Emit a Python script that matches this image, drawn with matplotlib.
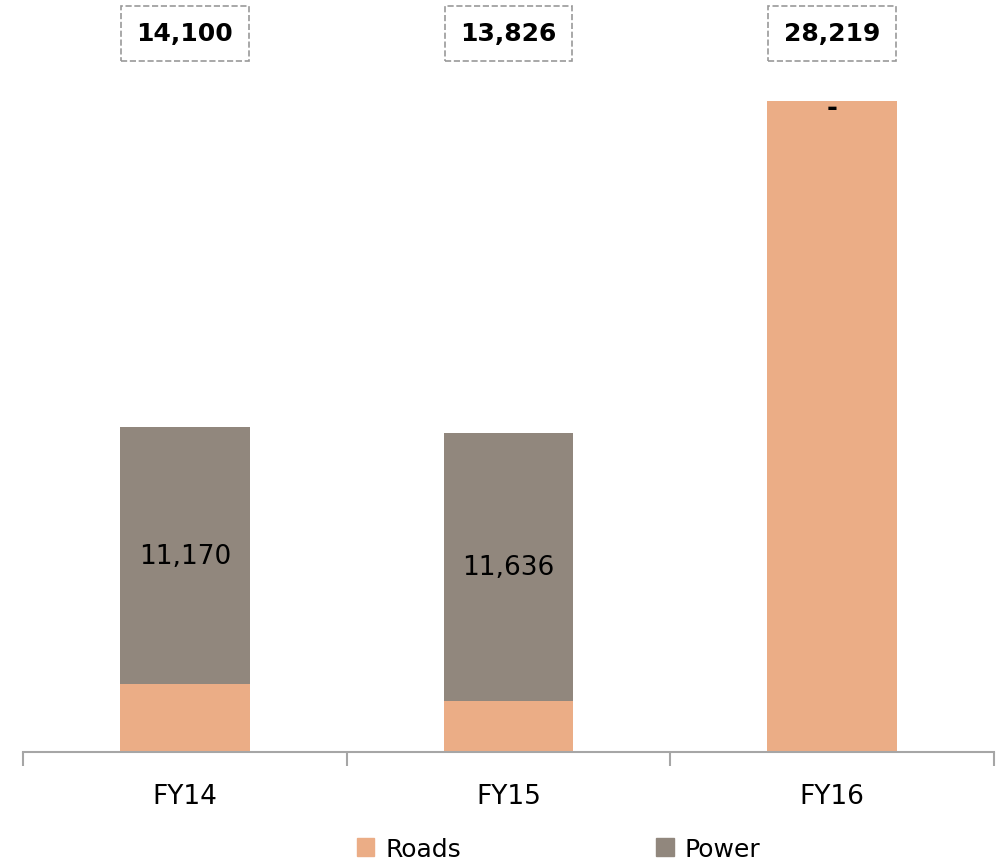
import numpy as np
import matplotlib.pyplot as plt
from matplotlib.patches import Patch

years = ['FY14', 'FY15', 'FY16']
roads = [2930, 2190, 28219]
power = [11170, 11636, 0]
totals = [14100, 13826, 28219]

road_color = '#EBAD86'
power_color = '#91877D'

plt.rcParams['font.family'] = ['DejaVu Sans']

fig = plt.figure(figsize=(10.03, 8.62), dpi=100)
ax = fig.add_axes([23 / 1003, 109 / 862, 971 / 1003, 673 / 862])

x = np.arange(len(years))
ax.bar(x, roads, width=0.4, color=road_color, label='Roads')
ax.bar(x, power, width=0.4, bottom=roads, color=power_color, label='Power')

# power labels in the middle of the segment
for i in range(len(years)):
    if power[i]:
        ax.text(x[i], roads[i] + power[i] / 2, f'{power[i]:,}', ha='center', va='center',
                fontsize=19, color='black')
    else:
        ax.annotate('-', xy=(x[i], roads[i]), xytext=(0, -5), textcoords='offset points',
                    ha='center', va='center', fontsize=19, fontweight='bold')

# totals in dashed boxes above the plot
for i in range(len(years)):
    ax.annotate(f'{totals[i]:,}', xy=(x[i], 1), xycoords=('data', 'axes fraction'),
                xytext=(0, 33), textcoords='offset points', ha='center', va='center',
                fontsize=18, fontweight='bold',
                bbox=dict(boxstyle='square,pad=0.62', fc='white', ec='#999999',
                          ls='--', lw=1.2),
                annotation_clip=False)

ax.set_xlim(-0.5, 2.5)
ax.set_ylim(0, 29170)
ax.set_yticks([])
for s in ['top', 'right', 'left']:
    ax.spines[s].set_visible(False)
ax.spines['bottom'].set_color('#a6a6a6')
ax.spines['bottom'].set_linewidth(1.5)

ax.set_xticks([-0.5, 0.5, 1.5, 2.5])
ax.set_xticklabels([])
ax.tick_params(axis='x', length=10, width=1.5, color='#a6a6a6')
ax.set_xticks(x, minor=True)
ax.set_xticklabels(years, minor=True, fontsize=19)
ax.tick_params(axis='x', which='minor', length=0, pad=22)

handles = [Patch(color=road_color), Patch(color=power_color)]
fig.legend(handles, ['Roads', 'Power'], loc='lower center', bbox_to_anchor=(0.557, -0.026),
           ncol=2, frameon=False, fontsize=18, handlelength=0.7, handleheight=0.7,
           handletextpad=0.45, columnspacing=7.8)

fig.savefig('out.png', dpi=100)
